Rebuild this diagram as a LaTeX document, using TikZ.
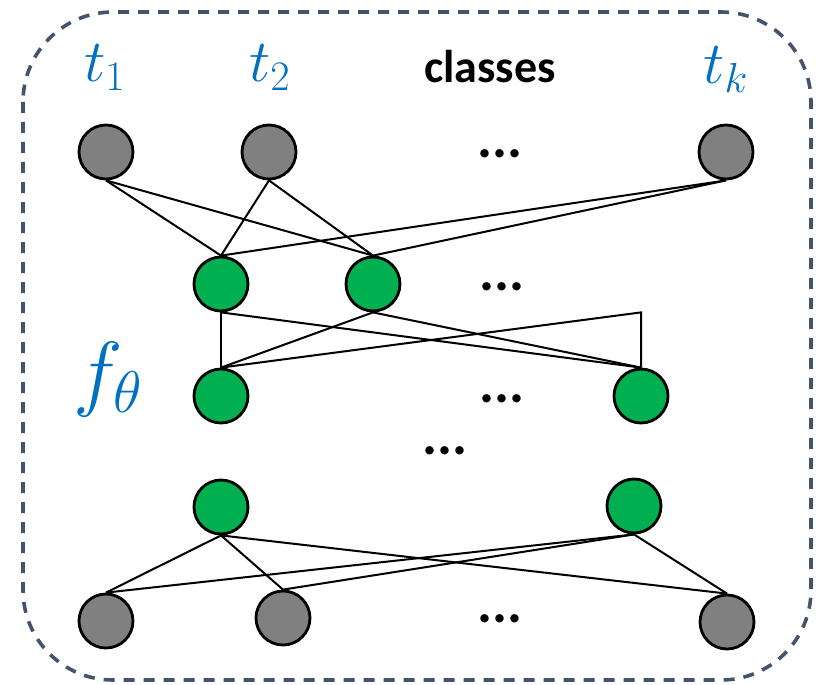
\RequirePackage{fix-cm}
\documentclass[tikz,border=0pt]{standalone}
\usepackage{amsmath}
\usepackage{amssymb}
\usepackage{fontspec}
\usepackage{tikz}
\newfontfamily\labelfont{Carlito}

\definecolor{nodegray}{HTML}{808080}
\definecolor{nodegreen}{HTML}{00B050}
\definecolor{labelblue}{HTML}{0070C0}
\definecolor{framegray}{HTML}{44546A}

\begin{document}
\begin{tikzpicture}[x=0.5pt, y=-0.5pt,
        classnode/.style={circle, draw=black, line width=1.4pt, fill=nodegray, minimum size=27pt, inner sep=0pt},
        hidnode/.style={circle, draw=black, line width=1.4pt, fill=nodegreen, minimum size=27pt, inner sep=0pt},
        link/.style={line width=1pt, black},
        dotsnode/.style={anchor=base, inner sep=0pt, font=\labelfont\bfseries\fontsize{28}{32}\selectfont},
        tlabel/.style={anchor=base, inner sep=0pt, text=labelblue, font=\fontsize{30}{36}\selectfont}]
        \useasboundingbox (0,0) rectangle (817,684);

        % Frame
        \draw[framegray, line width=1.8pt, dash pattern=on 5.5pt off 4.5pt, rounded corners=45pt] (23,12) rectangle (811,680);

        % Labels
        \node[tlabel] (lab1) at (105,82) {$t_1$};
        \node[tlabel] (lab2) at (270,82) {$t_2$};
        \node[tlabel] (labk) at (726,84) {$t_k$};
        \node[anchor=base, inner sep=0pt, font=\labelfont\bfseries\fontsize{23}{28}\selectfont] (classes) at (490,83) {classes};
        \node[anchor=base, inner sep=0pt, text=labelblue, font=\fontsize{42}{50}\selectfont] (fth) at (108,400) {$f_\theta$};

        % Classes (top)
        \node[classnode] (t1) at (106,152) {};
        \node[classnode] (t2) at (269,152) {};
        \node[classnode] (tk) at (726,152) {};
        \node[dotsnode] (dotsA) at (500,158) {...};

        % Hidden layers
        \node[hidnode] (g1) at (221,284) {};
        \node[hidnode] (g2) at (373,284) {};
        \node[dotsnode] (dotsB) at (502,290) {...};

        \node[hidnode] (h1) at (221,396) {};
        \node[hidnode] (h2) at (641,396) {};
        \node[dotsnode] (dotsC) at (502,402) {...};

        \node[dotsnode] (dotsD) at (445,454) {...};

        \node[hidnode] (m1) at (221,507) {};
        \node[hidnode] (m2) at (634,506) {};

        % Inputs (bottom)
        \node[classnode] (b1) at (106,621) {};
        \node[classnode] (b2) at (283,618) {};
        \node[classnode] (b3) at (727,622) {};
        \node[dotsnode] (dotsE) at (500,622) {...};

        % Connections
        \foreach \a in {t1,t2,tk} {
            \foreach \b in {g1,g2} {
                \draw[link] (\a.south) -- (\b.north);
            }
        }
        \foreach \a in {g1,g2} {
            \foreach \b in {h1,h2} {
                \draw[link] (\a.south) -- (\b.north);
            }
        }
        \coordinate (bend) at (h2.north |- g1.south);
        \draw[link] (h1.north) -- (bend) -- (h2.north);
        \foreach \a in {m1,m2} {
            \foreach \b in {b1,b2,b3} {
                \draw[link] (\a.south) -- (\b.north);
            }
        }
    \end{tikzpicture}
\end{document}
